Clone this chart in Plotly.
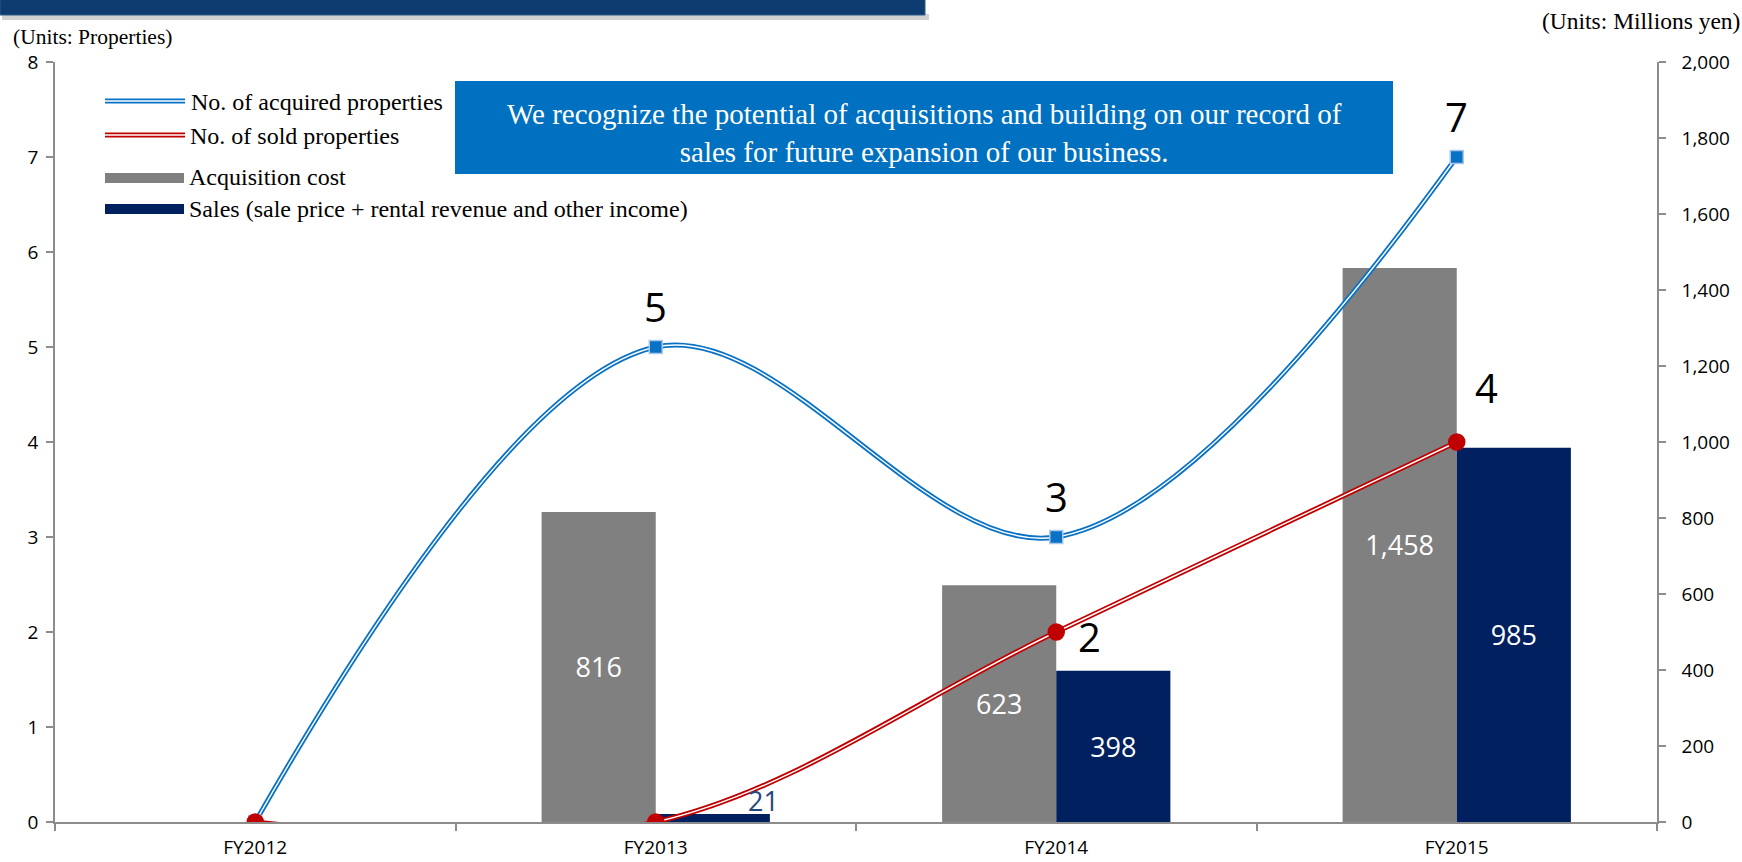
import plotly.graph_objects as go

# ---- data ----
years = ["FY2012", "FY2013", "FY2014", "FY2015"]
acquired_count = [0, 5, 3, 7]          # No. of acquired properties
sold_count = [0, 0, 2, 4]              # No. of sold properties
acquisition_cost = [0, 816, 623, 1458] # Millions yen
sales_amount = [0, 21, 398, 985]       # Millions yen

W, H = 1742, 862
L, R, T, B = 55, 1657, 62, 822  # plot area in pixels

def px(x):
    return (x - L) / (R - L)

def py(y):
    return (B - y) / (B - T)

SANS = "Open Sans, Arial, sans-serif"
SERIF = "Liberation Serif, Times New Roman, serif"
BLUE = "#0A72C4"
RED = "#C00000"
GRAY = "#808080"
NAVY = "#002060"
AXIS = "#8C8C8C"

fig = go.Figure()

# bars (right axis, drawn underneath the lines)
fig.add_trace(go.Bar(
    x=years, y=acquisition_cost, name="Acquisition cost",
    marker=dict(color=GRAY, line=dict(width=0)),
    text=[f"{v:,}" if v > 0 else "" for v in acquisition_cost],
    textposition="inside", insidetextanchor="middle", textangle=0,
    textfont=dict(family=SANS, size=27, color="white"),
    yaxis="y", hoverinfo="skip",
))
fig.add_trace(go.Bar(
    x=years, y=sales_amount, name="Sales",
    marker=dict(color=NAVY, line=dict(width=0)),
    text=[f"{v:,}" if v >= 100 else "" for v in sales_amount],
    textposition="inside", insidetextanchor="middle", textangle=0,
    textfont=dict(family=SANS, size=27, color="white"),
    yaxis="y", hoverinfo="skip",
))

# double-stroke smoothed lines (left axis)
for vals, col in [(acquired_count, BLUE), (sold_count, RED)]:
    fig.add_trace(go.Scatter(
        x=years, y=vals, mode="lines", yaxis="y2",
        line=dict(color=col, width=5, shape="spline", smoothing=1.0),
        hoverinfo="skip", showlegend=False,
    ))
    fig.add_trace(go.Scatter(
        x=years, y=vals, mode="lines", yaxis="y2",
        line=dict(color="white", width=1.4, shape="spline", smoothing=1.0),
        hoverinfo="skip", showlegend=False,
    ))
for vals, col, sym, msize, border in [(acquired_count, BLUE, "square", 13, "#A9C6EC"),
                                      (sold_count, RED, "circle", 16, RED)]:
    fig.add_trace(go.Scatter(
        x=years, y=vals, mode="markers", yaxis="y2",
        marker=dict(color=col, symbol=sym, size=msize,
                    line=dict(color=border, width=1.5)),
        hoverinfo="skip", showlegend=False,
    ))

annotations = []
shapes = []

# point labels
for yr, v in zip(years, acquired_count):
    if v > 0:
        annotations.append(dict(x=yr, y=v, xref="x", yref="y2", text=str(v),
                                showarrow=False, yshift=41, xanchor="center", yanchor="middle",
                                font=dict(family=SANS, size=40, color="black")))
sold_shift = {2: (33, -4), 4: (30, 55)}
for yr, v in zip(years, sold_count):
    if v > 0:
        xs, ys = sold_shift.get(v, (30, 0))
        annotations.append(dict(x=yr, y=v, xref="x", yref="y2", text=str(v),
                                showarrow=False, xshift=xs, yshift=ys,
                                xanchor="center", yanchor="middle",
                                font=dict(family=SANS, size=40, color="black")))
# small sales value shown above its bar
for yr, v in zip(years, sales_amount):
    if 0 < v < 100:
        annotations.append(dict(x=yr, y=v, xref="x", yref="y", text=f"{v:,}",
                                showarrow=False, xshift=108, yshift=14,
                                xanchor="center", yanchor="middle",
                                font=dict(family=SANS, size=27, color="#1F497D")))

# unit captions
annotations.append(dict(x=px(11), y=py(37), xref="paper", yref="paper",
                        text="(Units: Properties)", showarrow=False,
                        xanchor="left", yanchor="middle",
                        font=dict(family=SERIF, size=21.5, color="black")))
annotations.append(dict(x=px(1742), y=py(21), xref="paper", yref="paper",
                        text="(Units: Millions yen)", showarrow=False,
                        xanchor="right", yanchor="middle",
                        font=dict(family=SERIF, size=23.5, color="black")))

# message box
shapes.append(dict(type="rect", xref="paper", yref="paper",
                   x0=px(455), x1=px(1393), y0=py(174), y1=py(81),
                   fillcolor="#0070C0", line=dict(width=0), layer="above"))
annotations.append(dict(x=px(924), y=py(133), xref="paper", yref="paper",
                        text="We recognize the potential of acquisitions and building on our record of<br>"
                             "sales for future expansion of our business.",
                        showarrow=False, xanchor="center", yanchor="middle", align="center",
                        font=dict(family=SERIF, size=29, color="white")))

# title banner strip at the top edge
shapes.append(dict(type="rect", xref="paper", yref="paper",
                   x0=px(2), x1=px(929), y0=py(20), y1=py(14),
                   fillcolor="rgba(0,0,0,0.18)", line=dict(width=0), layer="above"))
shapes.append(dict(type="rect", xref="paper", yref="paper",
                   x0=px(0), x1=px(925), y0=py(15), y1=py(-5),
                   fillcolor="#0F3C70", line=dict(color="#2E5A8C", width=1), layer="above"))

# custom legend
for y0, col in [(101, BLUE), (135, RED)]:
    shapes.append(dict(type="line", xref="paper", yref="paper",
                       x0=px(105), x1=px(185), y0=py(y0), y1=py(y0),
                       line=dict(color=col, width=5), layer="above"))
    shapes.append(dict(type="line", xref="paper", yref="paper",
                       x0=px(105), x1=px(185), y0=py(y0), y1=py(y0),
                       line=dict(color="white", width=1.4), layer="above"))
for y0, y1, col in [(173, 183, GRAY), (204, 214, NAVY)]:
    shapes.append(dict(type="rect", xref="paper", yref="paper",
                       x0=px(105), x1=px(184), y0=py(y1), y1=py(y0),
                       fillcolor=col, line=dict(width=0), layer="above"))
for txt, x0, yc in [("No. of acquired properties", 189, 102),
                    ("No. of sold properties", 188, 136),
                    ("Acquisition cost", 187, 177),
                    ("Sales (sale price + rental revenue and other income)", 187, 209)]:
    annotations.append(dict(x=px(x0), y=py(yc), xref="paper", yref="paper", text=txt,
                            showarrow=False, xanchor="left", yanchor="middle",
                            font=dict(family=SERIF, size=24, color="black")))

fig.update_layout(
    width=W, height=H,
    margin=dict(l=L, r=W - R, t=T, b=H - B),
    paper_bgcolor="white", plot_bgcolor="white",
    showlegend=False,
    barmode="group", bargap=0.43, bargroupgap=0,
    xaxis=dict(
        categoryorder="array", categoryarray=years, automargin=False,
        showline=True, linecolor=AXIS, linewidth=1.5,
        ticks="outside", tickson="boundaries", ticklen=7, tickcolor=AXIS, tickwidth=1.5,
        showgrid=False, zeroline=False,
        tickfont=dict(family=SANS, size=19, color="black"),
        ticklabelstandoff=7,
    ),
    yaxis=dict(  # right: millions yen
        side="right", range=[0, 2000], dtick=200, tickformat=",", automargin=False,
        showline=True, linecolor=AXIS, linewidth=1.5,
        ticks="outside", ticklen=7, tickcolor=AXIS, tickwidth=1.5,
        showgrid=False, zeroline=False,
        tickfont=dict(family=SANS, size=19, color="black"),
        ticklabelstandoff=12,
    ),
    yaxis2=dict(  # left: properties
        overlaying="y", side="left", range=[0, 8], dtick=1, automargin=False,
        showline=True, linecolor=AXIS, linewidth=1.5,
        ticks="outside", ticklen=7, tickcolor=AXIS, tickwidth=1.5,
        showgrid=False, zeroline=False,
        tickfont=dict(family=SANS, size=19, color="black"),
        ticklabelstandoff=4,
    ),
    shapes=shapes,
    annotations=annotations,
)

fig.write_html("out.html")
